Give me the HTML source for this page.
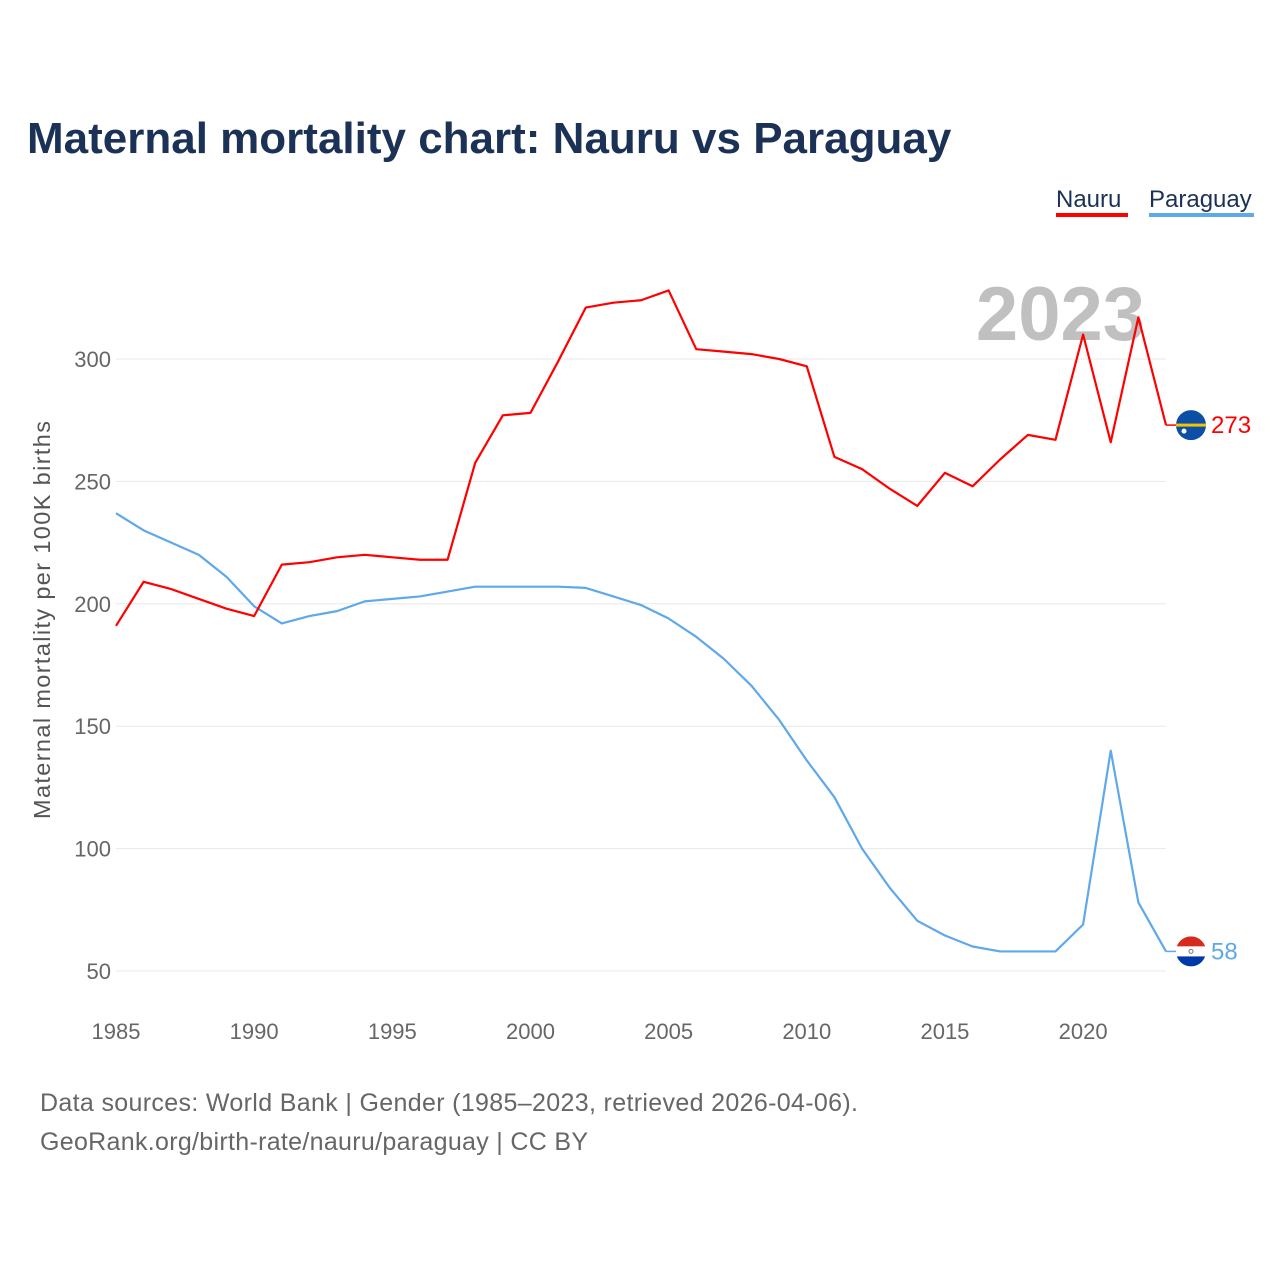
<!DOCTYPE html>
<html><head><meta charset="utf-8"><style>
body{margin:0;background:#fff;width:1280px;height:1280px;overflow:hidden;font-family:"Liberation Sans",sans-serif}
</style></head><body>
<svg id="chart" width="1280" height="1280" xmlns="http://www.w3.org/2000/svg">
<text x="27" y="153" font-size="44" font-weight="bold" fill="#1b3256">Maternal mortality chart: Nauru vs Paraguay</text>
<g>
<text x="1056" y="207" font-size="24" fill="#1b3256">Nauru</text>
<rect x="1056" y="213" width="72" height="4" fill="#ff0000"/>
<text x="1149" y="207" font-size="24" fill="#1b3256">Paraguay</text>
<rect x="1149" y="213" width="105" height="4" fill="#5fa8ea"/>
</g>
<text x="1145" y="340" font-size="76" font-weight="bold" fill="#c0c0c0" text-anchor="end">2023</text>
<g id="grid"></g>
<g id="xaxis"></g>
<text transform="translate(50,620) rotate(-90)" font-size="23.5" fill="#555" text-anchor="middle" textLength="398">Maternal mortality per 100K births</text>
<g id="series"></g>
<g id="ends"></g>
<text x="40" y="1111" font-size="25" fill="#666" textLength="818">Data sources: World Bank | Gender (1985–2023, retrieved 2026-04-06).</text>
<text x="40" y="1150" font-size="25" fill="#666" textLength="548">GeoRank.org/birth-rate/nauru/paraguay | CC BY</text>
</svg>
<script>
const years=[];for(let y=1985;y<=2023;y++)years.push(y);
const nauru=[191,209,206,202,198,195,216,217,219,220,219,218,218,257.6,277,278,299,321,323,324,328,304,303,302,300,297,260,255,247,240,253.5,248,259,269,267,310,266,317,273];
const paraguay=[237,230,225,220,211,199,192,195,197,201,202,203,205,207,207,207,207,206.5,203,199.5,194,186.5,177.5,166.5,152.6,136,121,100,84,70.5,64.5,60,58,58,58,69,140,78,58];
const yTicks=[50,100,150,200,250,300];
const xTicks=[1985,1990,1995,2000,2005,2010,2015,2020];
const NS="http://www.w3.org/2000/svg";
const X=v=>116+(v-1985)*(1050/38);
const Y=v=>971-(v-50)*(612/250);
function mk(tag,attrs,parent,text){const e=document.createElementNS(NS,tag);for(const k in attrs)e.setAttribute(k,attrs[k]);if(text!=null)e.textContent=text;parent.appendChild(e);return e;}
const grid=document.getElementById('grid');
yTicks.forEach(t=>{
 const l=mk('line',{x1:116,x2:1166,y1:Y(t),y2:Y(t),stroke:'#e8e8e8','stroke-width':1},grid);
 
 
 const tx=mk('text',{x:111,y:Y(t)+8,'font-size':22,fill:'#666','text-anchor':'end'},grid,String(t));
 
 
});
const xa=document.getElementById('xaxis');
xTicks.forEach(t=>{
 const tx=mk('text',{x:X(t),y:1039,'font-size':22,fill:'#666','text-anchor':'middle'},xa,String(t));
 
 
});
const ser=document.getElementById('series');
function line(vals,color,name){
 const p=mk('polyline',{points:vals.map((v,i)=>X(years[i])+','+Y(v)).join(' '),fill:'none',stroke:color,'stroke-width':2.2,'stroke-linejoin':'round'},ser);
 
 
}
line(paraguay,'#5fa8ea','line-paraguay');
line(nauru,'#ff0000','line-nauru');
const ends=document.getElementById('ends');
function endLabel(vals,color,name,flag){
 const v=vals[vals.length-1],y=Y(v),x0=X(2023);
 const c=mk('line',{x1:x0,x2:x0+12,y1:y,y2:y,stroke:color,'stroke-width':1.5},ends);
 
 
 const g=mk('g',{},ends);
 
 
 const cp='clip-'+name;
 const cy=y;
 const cl=mk('clipPath',{id:cp},g);mk('circle',{cx:1191,cy:cy,r:15},cl);
 if(flag==='nauru'){
  mk('rect',{x:1176,y:cy-15,width:30,height:30,fill:'#0d4ea6','clip-path':'url(#'+cp+')'},g);
  mk('rect',{x:1176,y:cy-1.5,width:30,height:3,fill:'#f5c400','clip-path':'url(#'+cp+')'},g);
  mk('circle',{cx:1184,cy:cy+6,r:2.5,fill:'#fff'},g);
 }else{
  mk('rect',{x:1176,y:cy-15,width:30,height:10,fill:'#d52b1e','clip-path':'url(#'+cp+')'},g);
  mk('rect',{x:1176,y:cy-5,width:30,height:10,fill:'#fff','clip-path':'url(#'+cp+')'},g);
  mk('rect',{x:1176,y:cy+5,width:30,height:10,fill:'#0038a8','clip-path':'url(#'+cp+')'},g);
  mk('circle',{cx:1191,cy:cy,r:2,fill:'none',stroke:'#777'},g);
 }
 const t=mk('text',{x:1211,y:y+8,'font-size':24,fill:color},ends,String(v));
 
 
}
endLabel(nauru,'#ff0000','nauru-end','nauru');
endLabel(paraguay,'#5fa8ea','paraguay-end','paraguay');
</script>
</body></html>
